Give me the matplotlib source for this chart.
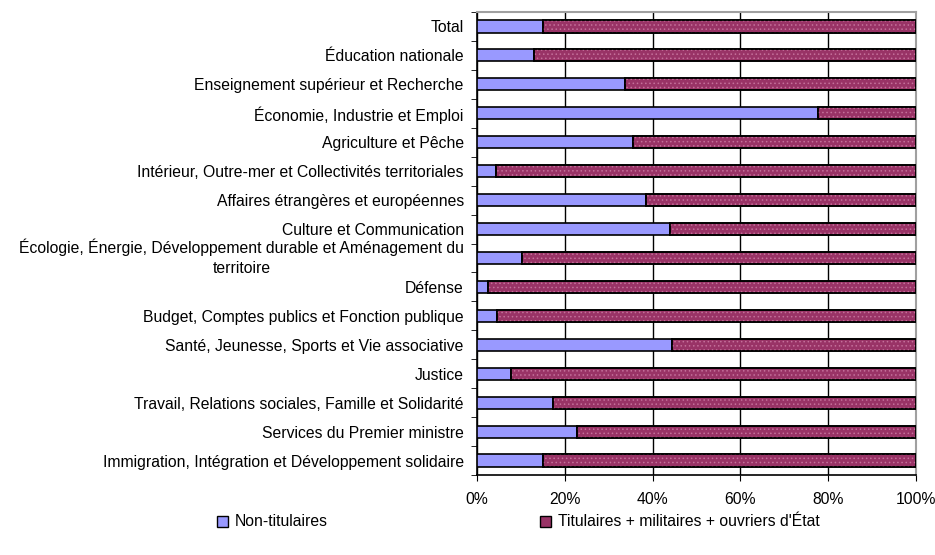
import numpy as np
import matplotlib
matplotlib.use("Agg")
import matplotlib.pyplot as plt
from matplotlib.patches import Patch
from matplotlib.ticker import FixedLocator, PercentFormatter
from matplotlib.transforms import ScaledTranslation

plt.rcParams["font.family"] = ["Liberation Sans", "DejaVu Sans"]
plt.rcParams["hatch.linewidth"] = 0.6

categories = [
    "Total",
    "Éducation nationale",
    "Enseignement supérieur et Recherche",
    "Économie, Industrie et Emploi",
    "Agriculture et Pêche",
    "Intérieur, Outre-mer et Collectivités territoriales",
    "Affaires étrangères et européennes",
    "Culture et Communication",
    "Écologie, Énergie, Développement durable et Aménagement du\nterritoire",
    "Défense",
    "Budget, Comptes publics et Fonction publique",
    "Santé, Jeunesse, Sports et Vie associative",
    "Justice",
    "Travail, Relations sociales, Famille et Solidarité",
    "Services du Premier ministre",
    "Immigration, Intégration et Développement solidaire",
]
non_titulaires = [15.0, 12.9, 33.7, 77.6, 35.6, 4.3, 38.5, 44.0, 10.2, 2.6,
                  4.6, 44.4, 7.7, 17.2, 22.7, 15.0]
titulaires = [100 - v for v in non_titulaires]

blue = "#9999ff"
plum = "#993366"
dots = "#c4709a"
fs = 11.3

fig = plt.figure(figsize=(9.35, 5.55), dpi=100)
ax = fig.add_axes([477 / 935, 1 - 475 / 555, 439 / 935, 463 / 555])

y = np.arange(len(categories))
ax.barh(y, non_titulaires, height=0.42, color=blue, edgecolor="black",
        linewidth=1.2, zorder=3)
ax.barh(y, titulaires, left=non_titulaires, height=0.42, color=plum,
        edgecolor="black", linewidth=1.2, zorder=3)
# light dotted texture on the second series
ax.barh(y, titulaires, left=non_titulaires, height=0.42, facecolor="none",
        edgecolor=dots, linewidth=0, hatch="....", zorder=3.5)
ax.barh(y, titulaires, left=non_titulaires, height=0.42, facecolor="none",
        edgecolor="black", linewidth=1.2, zorder=3.6)

ax.set_xlim(0, 100)
ax.set_ylim(len(categories) - 0.5, -0.5)
ax.set_xticks(range(0, 101, 20))
ax.xaxis.set_major_formatter(PercentFormatter(decimals=0))
ax.grid(axis="x", color="black", linewidth=1, zorder=0)

ax.set_yticks(y)
ax.set_yticklabels(categories, multialignment="center", linespacing=1.38)
ax.yaxis.set_minor_locator(FixedLocator(np.arange(-0.5, len(categories), 1)))
ax.tick_params(axis="y", which="major", length=0, pad=9.5, labelsize=fs)
ax.tick_params(axis="y", which="minor", length=4, direction="out")
ax.tick_params(axis="x", length=4, direction="out", labelsize=fs, pad=8)

# the two-line label sits a little above its bar
lab = ax.get_yticklabels()[8]
lab.set_transform(lab.get_transform() + ScaledTranslation(0, 0.045, fig.dpi_scale_trans))

for side in ("top", "right"):
    ax.spines[side].set_color("#a0a0a0")
    ax.spines[side].set_linewidth(1.5)
for side in ("left", "bottom"):
    ax.spines[side].set_linewidth(1.2)

h1 = Patch(facecolor=blue, edgecolor="black", label="Non-titulaires")
h2 = Patch(facecolor=plum, edgecolor="black",
           label="Titulaires + militaires + ouvriers d'État")
leg_y = 1 - 522 / 555
for h, x0 in ((h1, 217 / 935), (h2, 540 / 935)):
    fig.legend(handles=[h], loc="center left", bbox_to_anchor=(x0, leg_y),
               frameon=False, fontsize=fs, handlelength=0.7, handleheight=0.7,
               handletextpad=0.45, borderpad=0, borderaxespad=0)

fig.savefig("out.png", dpi=100)
